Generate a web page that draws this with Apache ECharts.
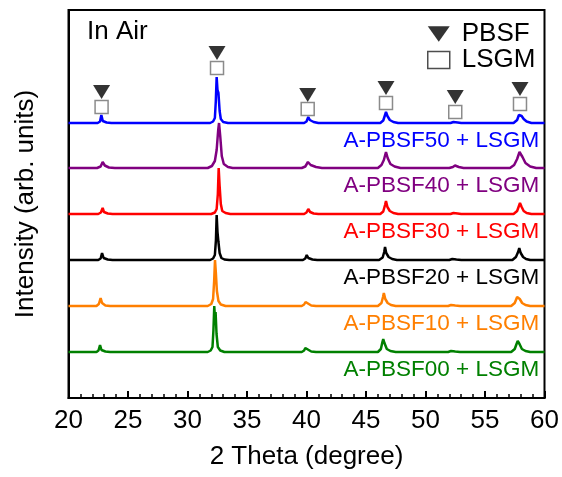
<!DOCTYPE html>
<html>
<head>
<meta charset="utf-8">
<script src="https://cdn.jsdelivr.net/npm/echarts@6/dist/echarts.min.js"></script>
<style>html,body{margin:0;padding:0;background:#fff}#c{width:562px;height:477px}</style>
</head>
<body>
<div id="c"></div>
<script>
// Sample names, colours and vertical offsets (stacking of the patterns)
var sampleNames = ['A-PBSF50 + LSGM','A-PBSF40 + LSGM','A-PBSF30 + LSGM','A-PBSF20 + LSGM','A-PBSF10 + LSGM','A-PBSF00 + LSGM'];
var sampleColors = ['#0000ff','#800080','#ff0000','#000000','#ff7f00','#008000'];
var sampleOffsets = [275, 230, 184, 138, 92, 46];
var labelDrop = 18;

// XRD patterns: [2theta, intensity above own baseline]
var pbsf50 = [[20,0],[22.45,0],[22.65,1.5],[22.76,8],[22.88,2],[23.2,0.5],[23.6,0],
 [31.9,0],[32.15,1.5],[32.3,5],[32.38,22],[32.45,46],[32.52,33],[32.6,30],[32.7,12],[32.8,4],[33.0,1],[33.4,0],
 [39.8,0],[40.0,1.5],[40.15,6],[40.28,3],[40.6,1],[41,0],
 [46.2,0],[46.45,2.5],[46.6,8],[46.68,11],[46.8,7],[47.0,3],[47.3,1],[47.7,0],
 [52.1,0],[52.35,1],[52.48,2],[52.7,0.5],[53,0],
 [57.4,0],[57.7,3],[57.85,8],[57.94,10],[58.08,7],[58.25,4],[58.5,1.5],[58.9,0],[60,0]];
var pbsf40 = [[20,0],[22.4,0],[22.7,1.5],[22.87,6],[23.05,2.5],[23.4,0.5],[23.9,0],
 [31.7,0],[32.05,2],[32.3,7],[32.45,18],[32.58,38],[32.65,45],[32.75,32],[32.88,12],[33.05,4],[33.4,1],[33.8,0],
 [39.6,0],[39.9,1.5],[40.12,6],[40.35,3],[40.8,1],[41.3,0],
 [46.0,0],[46.3,3],[46.5,8],[46.68,16],[46.82,10],[47.05,4],[47.4,1.5],[47.9,0],
 [52.0,0],[52.3,1],[52.48,2.5],[52.8,1],[53.2,0],
 [57.1,0],[57.45,3],[57.7,9],[57.9,16],[58.0,17],[58.15,11],[58.4,5],[58.8,1.5],[59.3,0],[60,0]];
var pbsf30 = [[20,0],[22.5,0],[22.72,1.5],[22.87,6],[22.98,2],[23.3,0.5],[23.7,0],
 [32.0,0],[32.3,1.5],[32.45,5],[32.55,20],[32.62,46],[32.7,28],[32.8,10],[32.92,3],[33.2,1],[33.6,0],
 [39.8,0],[40.0,1.5],[40.15,5],[40.3,2],[40.6,0.5],[41,0],
 [46.2,0],[46.45,2.5],[46.6,9],[46.68,13],[46.8,7],[47.0,3],[47.3,1],[47.7,0],
 [52.1,0],[52.35,1],[52.48,2],[52.7,0.5],[53,0],
 [57.4,0],[57.7,3],[57.85,8],[57.94,11],[58.08,7],[58.25,3],[58.5,1],[58.9,0],[60,0]];
var pbsf20 = [[20,0],[22.5,0],[22.7,1.5],[22.82,7],[22.95,2],[23.3,0.5],[23.7,0],
 [31.9,0],[32.15,1.5],[32.3,5],[32.39,20],[32.45,45],[32.52,28],[32.6,18],[32.7,7],[32.85,2],[33.1,0.5],[33.5,0],
 [39.7,0],[39.9,1.5],[40.02,5],[40.15,2],[40.5,0.5],[40.9,0],
 [46.1,0],[46.4,2.5],[46.53,8],[46.6,13],[46.7,7],[46.9,3],[47.2,1],[47.6,0],
 [52.0,0],[52.25,1],[52.4,3],[52.6,0.5],[53,0],
 [57.3,0],[57.6,3],[57.78,8],[57.88,12],[58.0,7],[58.2,3],[58.45,1],[58.8,0],[60,0]];
var pbsf10 = [[20,0],[22.35,0],[22.55,2],[22.7,8],[22.82,3],[23.1,0.5],[23.5,0],
 [31.7,0],[32.0,2],[32.15,7],[32.24,25],[32.31,46],[32.38,34],[32.47,15],[32.6,5],[32.8,1.5],[33.2,0],
 [39.6,0],[39.8,1.5],[39.92,4],[40.05,2],[40.4,0.5],[40.8,0],
 [46.0,0],[46.3,3],[46.43,9],[46.5,13],[46.62,7],[46.82,3],[47.1,1],[47.5,0],
 [51.9,0],[52.15,1],[52.3,2],[52.5,0.5],[52.9,0],
 [57.2,0],[57.5,3],[57.7,9],[57.8,11],[57.92,7],[58.12,3],[58.4,1],[58.8,0],[60,0]];
var pbsf00 = [[20,0],[22.35,0],[22.52,1.5],[22.65,7],[22.77,2],[23.1,0.5],[23.5,0],
 [31.7,0],[31.95,1.5],[32.1,5],[32.18,22],[32.25,46],[32.3,35],[32.36,40],[32.44,18],[32.55,5],[32.75,1.5],[33.1,0],
 [39.6,0],[39.8,1.5],[39.9,4],[40.05,2],[40.4,0.5],[40.8,0],
 [46.0,0],[46.25,3],[46.38,10],[46.45,13],[46.55,9],[46.75,3],[47.05,1],[47.5,0],
 [51.9,0],[52.15,1],[52.3,2],[52.5,0.5],[52.9,0],
 [57.2,0],[57.5,3],[57.65,8],[57.75,11],[57.9,8],[58.1,3],[58.4,1],[58.8,0],[60,0]];
var patterns = [pbsf50, pbsf40, pbsf30, pbsf20, pbsf10, pbsf00];

// Phase markers above the top pattern
var pbsfMarks = [[22.78,306],[32.48,345],[40.1,303],[46.68,310],[52.5,301],[57.94,309]];
var lsgmMarks = [[22.78,291],[32.48,330],[40.1,289],[46.68,295],[52.5,286],[57.94,294]];

var xTicks = {min: 20, max: 60, interval: 5};
var yRange = {min: 0, max: 388};

var FONT = 'Liberation Sans, Arial, sans-serif';
var triPath = 'path://M0,0L20,0L10,14Z';

var series = patterns.map(function (pts, i) {
  return {
    name: sampleNames[i],
    type: 'line',
    showSymbol: false,
    symbol: 'none',
    lineStyle: {color: sampleColors[i], width: 2.5},
    itemStyle: {color: sampleColors[i]},
    data: pts.map(function (p) { return [p[0], p[1] + sampleOffsets[i]]; }),
    markPoint: {
      symbol: 'circle', symbolSize: 0, silent: true,
      data: [{coord: [59.55, sampleOffsets[i] - labelDrop]}],
      label: {show: true, position: 'inside', align: 'right', verticalAlign: 'middle',
        formatter: sampleNames[i], color: sampleColors[i], fontSize: 22.5, fontFamily: FONT}
    }
  };
});
series.push({
  name: 'PBSF', type: 'scatter', symbol: triPath, symbolSize: [17, 14], symbolKeepAspect: false,
  itemStyle: {color: '#000'}, data: pbsfMarks, z: 5
});
series.push({
  name: 'LSGM', type: 'scatter', symbol: 'rect', symbolSize: [13, 13],
  itemStyle: {color: '#fff', borderColor: '#6e6e6e', borderWidth: 1.5}, data: lsgmMarks, z: 5
});

var chart = echarts.init(document.getElementById('c'), null, {renderer: 'canvas'});
chart.setOption({
  animation: false,
  backgroundColor: '#fff',
  title: {text: 'In Air', left: 82, top: 14, textStyle: {fontSize: 26, fontWeight: 'normal', color: '#000', fontFamily: FONT}},
  legend: {
    orient: 'vertical', left: 422, top: 15, itemGap: -2,
    itemWidth: 22, itemHeight: 17,
    data: [{name: 'PBSF', icon: triPath, itemStyle: {color: '#000'}},
           {name: 'LSGM', icon: 'rect', itemStyle: {color: '#fff', borderColor: '#222', borderWidth: 1.5}}],
    textStyle: {fontSize: 26, color: '#000', fontFamily: FONT, lineHeight: 28, padding: [0, 0, 0, 7]},
    selectedMode: false
  },
  grid: {left: 68.5, right: 17.5, top: 10, bottom: 79, show: true, borderColor: '#000', borderWidth: 2, backgroundColor: 'transparent'},
  xAxis: {
    type: 'value', min: xTicks.min, max: xTicks.max, interval: xTicks.interval,
    name: '2 Theta (degree)', nameLocation: 'middle', nameGap: 46,
    nameTextStyle: {fontSize: 26, color: '#000', fontFamily: FONT},
    axisLine: {show: true, lineStyle: {color: '#000', width: 2}},
    axisTick: {show: true, inside: true, length: 7, lineStyle: {color: '#000', width: 2}},
    minorTick: {show: true, splitNumber: 5, length: 4, lineStyle: {color: '#000', width: 1.5}},
    axisLabel: {fontSize: 26, color: '#000', fontFamily: FONT, margin: 10},
    splitLine: {show: false}
  },
  yAxis: {
    type: 'value', min: yRange.min, max: yRange.max,
    name: 'Intensity (arb. units)', nameLocation: 'middle', nameGap: 30,
    nameTextStyle: {fontSize: 26, color: '#000', fontFamily: FONT},
    axisLine: {show: true, lineStyle: {color: '#000', width: 2}},
    axisTick: {show: false}, axisLabel: {show: false}, splitLine: {show: false}
  },
  series: series
});
</script>
</body>
</html>
